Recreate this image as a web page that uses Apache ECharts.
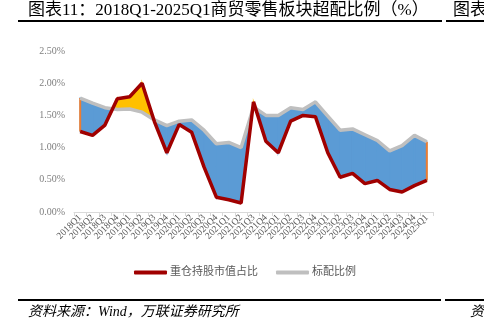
<!DOCTYPE html>
<html><head><meta charset="utf-8">
<script src="https://cdn.jsdelivr.net/npm/echarts@6/dist/echarts.min.js"></script>
<style>html,body{margin:0;padding:0;background:#fff;}#c{width:484px;height:327px;}</style>
</head><body><div id="c"></div>
<script>
var categories = ['2018Q1','2018Q2','2018Q3','2018Q4','2019Q1','2019Q2','2019Q3','2019Q4','2020Q1','2020Q2','2020Q3','2020Q4','2021Q1','2021Q2','2021Q3','2021Q4','2022Q1','2022Q2','2022Q3','2022Q4','2023Q1','2023Q2','2023Q3','2023Q4','2024Q1','2024Q2','2024Q3','2024Q4','2025Q1'];
var heavyHolding = [1.25,1.19,1.35,1.76,1.79,2.00,1.40,0.92,1.36,1.24,0.70,0.23,0.19,0.14,1.71,1.10,0.92,1.41,1.50,1.48,0.92,0.54,0.60,0.44,0.49,0.35,0.31,0.41,0.49];
var standard = [1.77,1.69,1.62,1.59,1.60,1.55,1.43,1.34,1.41,1.43,1.27,1.06,1.08,1.00,1.63,1.50,1.50,1.62,1.59,1.71,1.49,1.27,1.29,1.20,1.11,0.95,1.03,1.19,1.09];
var yTicks = [0, 0.5, 1.0, 1.5, 2.0, 2.5];

var segs = [];
for (var i = 0; i < categories.length - 1; i++) {
  segs.push([i, heavyHolding[i], standard[i], heavyHolding[i+1], standard[i+1]]);
}
var BLUE = '#5B9BD5', YEL = '#FFC000', ORG = '#ED7D31';
function renderSeg(params, api) {
  var i = api.value(0);
  var r0 = api.coord([i, api.value(1)]), g0 = api.coord([i, api.value(2)]);
  var r1 = api.coord([i+1, api.value(3)]), g1 = api.coord([i+1, api.value(4)]);
  var d0 = api.value(2) - api.value(1), d1 = api.value(4) - api.value(3);
  var children = [];
  function poly(pts, col) {
    children.push({type:'polygon', shape:{points:pts}, style:{fill:col, stroke:col, lineWidth:1.2}});
  }
  if (d0 * d1 >= 0) {
    poly([g0, g1, r1, r0], (d0 + d1) >= 0 ? BLUE : YEL);
  } else {
    var t = d0 / (d0 - d1);
    var c = [r0[0] + t*(r1[0]-r0[0]), r0[1] + t*(r1[1]-r0[1])];
    poly([g0, c, r0], d0 > 0 ? BLUE : YEL);
    poly([c, g1, r1], d1 > 0 ? BLUE : YEL);
  }
  if (i === 0) children.push({type:'line', shape:{x1:r0[0], y1:r0[1], x2:g0[0], y2:g0[1]}, style:{stroke:ORG, lineWidth:2}});
  if (i === categories.length - 2) children.push({type:'line', shape:{x1:r1[0], y1:r1[1], x2:g1[0], y2:g1[1]}, style:{stroke:ORG, lineWidth:2}});
  return {type:'group', children:children};
}

var serif = "'Liberation Serif','Noto Sans CJK SC',serif";
var chart = echarts.init(document.getElementById('c'), null, {renderer:'canvas'});
chart.setOption({
  animation: false,
  backgroundColor: '#fff',
  grid: {left: 74, right: 51, top: 51, bottom: 115, containLabel: false},
  xAxis: {
    type: 'category', data: categories, boundaryGap: true,
    axisLine: {lineStyle: {color: '#D9D9D9', width: 1}},
    axisTick: {show: true, alignWithLabel: false, length: 4, lineStyle: {color: '#D9D9D9'}},
    axisLabel: {interval: 0, rotate: 45, fontSize: 9.5, color: '#595959', fontFamily: serif, margin: 4}
  },
  yAxis: {
    type: 'value', min: 0, max: 2.5, interval: 0.5,
    axisLine: {show: false}, axisTick: {show: false}, splitLine: {show: false},
    axisLabel: {fontSize: 10, color: '#7F7F7F', fontFamily: serif, margin: 9,
      formatter: function (v) { return v.toFixed(2) + '%'; }}
  },
  legend: {
    data: ['重仓持股市值占比', '标配比例'],
    left: 129, top: 262, itemWidth: 33, itemHeight: 4, itemGap: 18, icon: 'roundRect',
    textStyle: {fontSize: 11, color: '#595959', fontFamily: serif, padding: [0,0,0,-2]}
  },
  series: [
    {type: 'custom', name: 'fill', renderItem: renderSeg, data: segs, encode: {x: 0, y: [1,2,3,4]}, z: 1, silent: true},
    {type: 'line', name: '标配比例', data: standard, symbol: 'none', lineStyle: {color: '#BFBFBF', width: 3.5}, itemStyle: {color: '#BFBFBF'}, z: 2},
    {type: 'line', name: '重仓持股市值占比', data: heavyHolding, symbol: 'none', lineStyle: {color: '#A00000', width: 3.5}, itemStyle: {color: '#A00000'}, z: 3}
  ],
  graphic: [
    {type: 'text', left: 28, top: 2, style: {text: '图表11：2018Q1-2025Q1商贸零售板块超配比例（%）', font: "17px " + serif, fill: '#000'}},
    {type: 'text', left: 453, top: 2, style: {text: '图表12', font: "17px " + serif, fill: '#000'}},
    {type: 'rect', shape: {x: 18, y: 20, width: 424, height: 2}, style: {fill: '#000'}},
    {type: 'rect', shape: {x: 446, y: 20, width: 40, height: 2}, style: {fill: '#000'}},
    {type: 'rect', shape: {x: 18, y: 299, width: 423, height: 2}, style: {fill: '#000'}},
    {type: 'rect', shape: {x: 445, y: 299, width: 40, height: 2}, style: {fill: '#000'}},
    {type: 'text', left: 28, top: 305, style: {text: '资料来源：Wind，万联证券研究所', font: "italic 14px " + serif, fill: '#000'}},
    {type: 'text', left: 470, top: 305, style: {text: '资料来源', font: "italic 14px " + serif, fill: '#000'}}
  ]
});
</script></body></html>
